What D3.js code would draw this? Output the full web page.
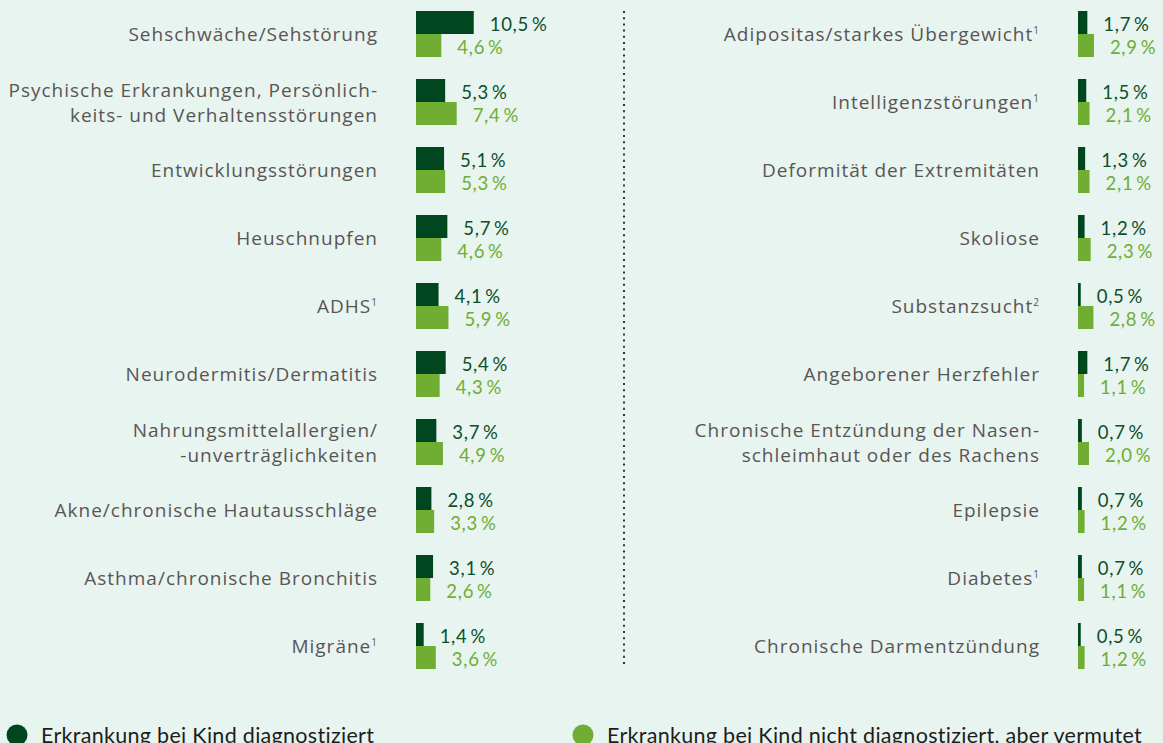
<!DOCTYPE html>
<html>
<head>
<meta charset="utf-8">
<script src="https://cdn.jsdelivr.net/npm/d3@7"></script>
<style>
  html, body { margin: 0; padding: 0; background: #e8f4ef; }
  svg { display: block; }
</style>
</head>
<body>
<svg id="chart"></svg>
<script>
// Erkrankungen bei Kindern — diagnosed vs suspected, two columns of paired bars

const LEFT_LABELS = [
  ['Sehschwäche/Sehstörung'],
  ['Psychische Erkrankungen, Persönlich-', 'keits- und Verhaltensstörungen'],
  ['Entwicklungsstörungen'],
  ['Heuschnupfen'],
  ['ADHS'],
  ['Neurodermitis/Dermatitis'],
  ['Nahrungsmittelallergien/', '-unverträglichkeiten'],
  ['Akne/chronische Hautausschläge'],
  ['Asthma/chronische Bronchitis'],
  ['Migräne']
];
const LEFT_SUP = ['', '', '', '', '1', '', '', '', '', '1'];
const LEFT_DIAG = [10.5, 5.3, 5.1, 5.7, 4.1, 5.4, 3.7, 2.8, 3.1, 1.4];
const LEFT_SUSP = [4.6, 7.4, 5.3, 4.6, 5.9, 4.3, 4.9, 3.3, 2.6, 3.6];

const RIGHT_LABELS = [
  ['Adipositas/starkes Übergewicht'],
  ['Intelligenzstörungen'],
  ['Deformität der Extremitäten'],
  ['Skoliose'],
  ['Substanzsucht'],
  ['Angeborener Herzfehler'],
  ['Chronische Entzündung der Nasen-', 'schleimhaut oder des Rachens'],
  ['Epilepsie'],
  ['Diabetes'],
  ['Chronische Darmentzündung']
];
const RIGHT_SUP = ['1', '1', '', '', '2', '', '', '', '1', ''];
const RIGHT_DIAG = [1.7, 1.5, 1.3, 1.2, 0.5, 1.7, 0.7, 0.7, 0.7, 0.5];
const RIGHT_SUSP = [2.9, 2.1, 2.1, 2.3, 2.8, 1.1, 2.0, 1.2, 1.1, 1.2];

const LEGEND = ['Erkrankung bei Kind diagnostiziert', 'Erkrankung bei Kind nicht diagnostiziert, aber vermutet'];

const W = 1163, H = 743;
const DARK = '#00471f', LIGHT = '#6fae33';
const DARK_TXT = '#0d4f2a', LIGHT_TXT = '#6fae33';
const LABEL_C = '#5a5555';
const FONT = '"Open Sans", Lato, sans-serif';
const VFONT = 'Lato, "Open Sans", sans-serif';

const svg = d3.select('#chart').attr('width', W).attr('height', H);
svg.append('rect').attr('width', W).attr('height', H).attr('fill', '#e8f4ef');

const fmt = v => d3.format('.1f')(v).replace('.', ',') + '\u2009%';

function panel(labels, sups, diag, susp, x0, labelX) {
  const idx = d3.range(labels.length);
  const y = d3.scaleBand().domain(idx).range([11, 11 + 68 * 9 + 46])
    .paddingInner(22 / 68).paddingOuter(0);
  const x = d3.scaleLinear().domain([0, 1]).range([x0, x0 + 5.5]);
  const bh = y.bandwidth() / 2;

  const g = svg.append('g');
  const rows = g.selectAll('g.row').data(idx).join('g').attr('class', 'row');

  rows.append('rect')
    .attr('x', x(0)).attr('y', i => y(i))
    .attr('width', i => x(diag[i]) - x(0)).attr('height', bh)
    .attr('fill', DARK);
  rows.append('rect')
    .attr('x', x(0)).attr('y', i => y(i) + bh)
    .attr('width', i => x(susp[i]) - x(0)).attr('height', bh)
    .attr('fill', LIGHT);

  rows.append('text')
    .attr('x', i => x(diag[i]) + 16).attr('y', i => y(i) + bh / 2 + 1)
    .attr('dominant-baseline', 'central')
    .attr('font-family', VFONT).attr('font-size', 18.5).attr('letter-spacing', 0.7)
    .attr('fill', DARK_TXT)
    .text(i => fmt(diag[i]));
  rows.append('text')
    .attr('x', i => x(susp[i]) + 16).attr('y', i => y(i) + bh * 1.5 + 1)
    .attr('dominant-baseline', 'central')
    .attr('font-family', VFONT).attr('font-size', 18.5).attr('letter-spacing', 0.7)
    .attr('fill', LIGHT_TXT)
    .text(i => fmt(susp[i]));

  // category labels, right aligned, optional superscript
  const lab = rows.append('text')
    .attr('text-anchor', 'end')
    .attr('font-family', FONT).attr('font-size', 19).attr('letter-spacing', 1)
    .attr('fill', LABEL_C);
  lab.each(function (i) {
    const t = d3.select(this);
    const lines = labels[i];
    const cy = y(i) + bh;
    lines.forEach((ln, k) => {
      const ty = cy + (k - (lines.length - 1) / 2) * 25 + 7;
      t.append('tspan').attr('x', labelX).attr('y', ty).text(ln);
      if (k === lines.length - 1 && sups[i]) {
        t.append('tspan').attr('font-size', 10).attr('dy', -7).text(sups[i]);
      }
    });
  });
}

panel(LEFT_LABELS, LEFT_SUP, LEFT_DIAG, LEFT_SUSP, 416, 378);
panel(RIGHT_LABELS, RIGHT_SUP, RIGHT_DIAG, RIGHT_SUSP, 1078, 1040);

// dotted divider
svg.append('line')
  .attr('x1', 624).attr('x2', 624).attr('y1', 11).attr('y2', 666)
  .attr('stroke', '#333').attr('stroke-width', 2).attr('stroke-dasharray', '2 4.2');

// legend
const legX = [17, 583];
LEGEND.forEach((t, i) => {
  svg.append('circle').attr('cx', legX[i]).attr('cy', 735).attr('r', 10.5)
    .attr('fill', i === 0 ? DARK : LIGHT);
  svg.append('text').attr('x', legX[i] + 24).attr('y', 743)
    .attr('font-family', VFONT).attr('font-size', 21.5).attr('letter-spacing', 0.3)
    .attr('fill', '#1d1d1b').text(t);
});
</script>
</body>
</html>
